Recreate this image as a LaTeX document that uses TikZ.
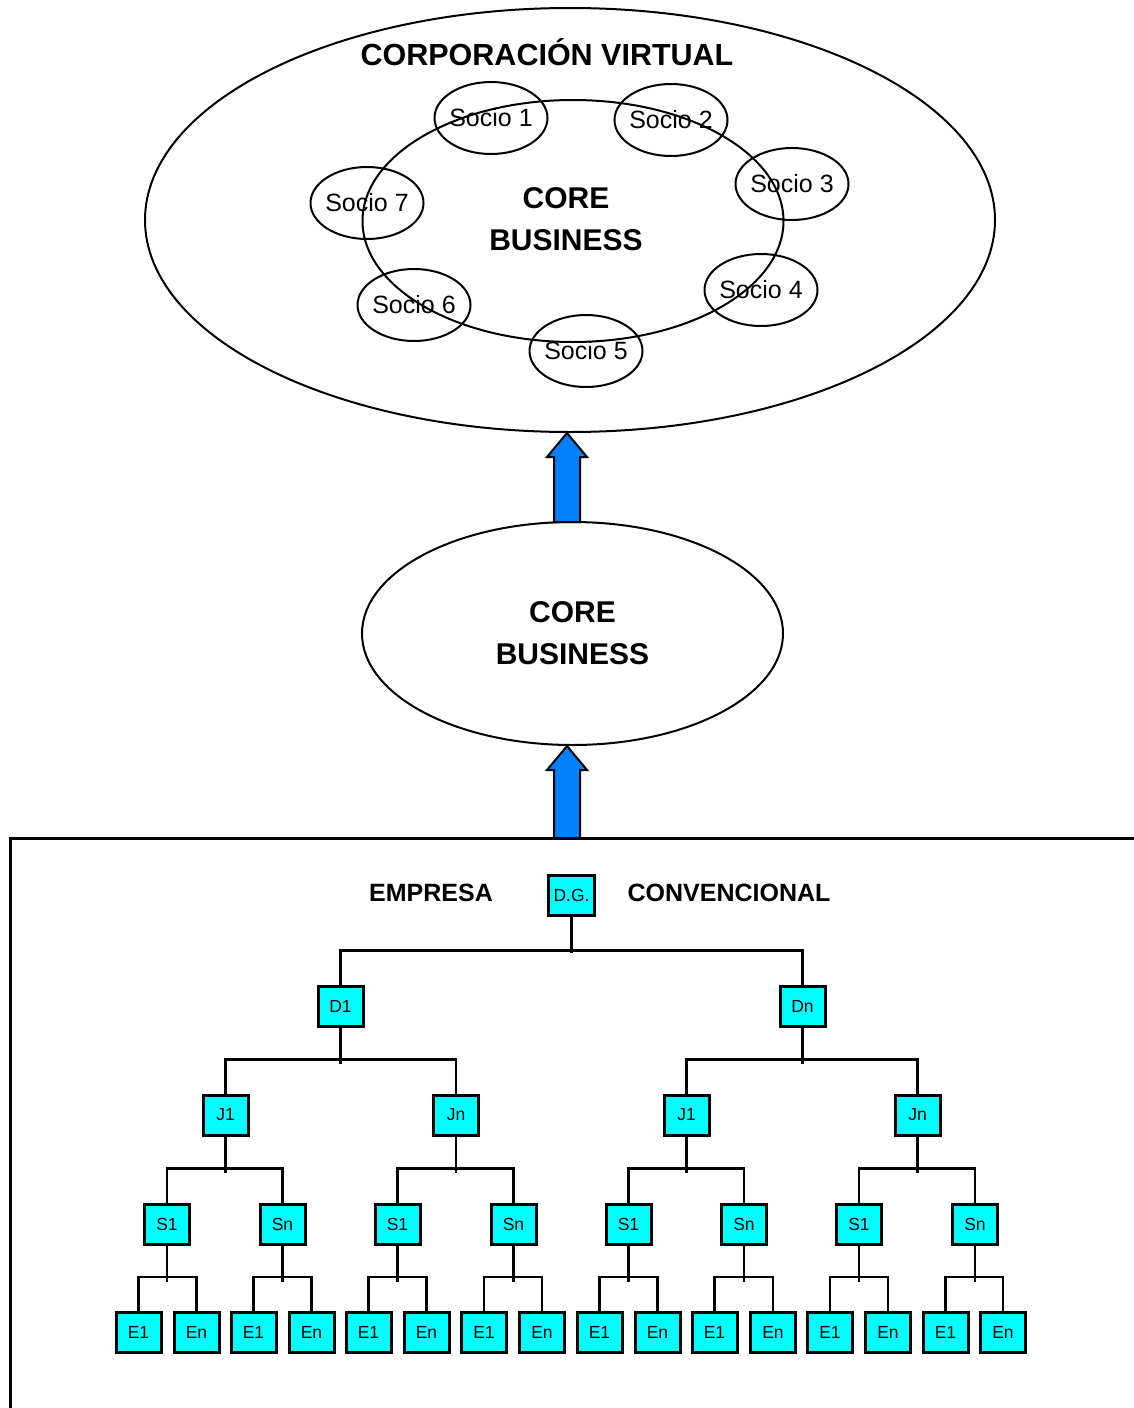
\documentclass[tikz,border=0pt]{standalone}
\usepackage{fontspec}
\setmainfont{Liberation Sans}
\usetikzlibrary{shapes.geometric,calc}
\definecolor{boxcyan}{HTML}{00FFFF}
\definecolor{arrowblue}{HTML}{0080FF}
\begin{document}
\begin{tikzpicture}[x=1pt,y=-1pt,
  oval/.style={draw,ellipse,line width=2pt,inner sep=0pt},
  socio/.style={oval,inner xsep=-6pt,minimum width=113,minimum height=72,font=\fontsize{25}{28}\selectfont},
  bigtext/.style={font=\bfseries\fontsize{30}{42}\selectfont,align=center},
  label/.style={font=\bfseries\fontsize{25}{30}\selectfont},
  orgbox/.style={draw,line width=3pt,fill=boxcyan,minimum width=45,minimum height=40,inner sep=0pt,font=\fontsize{17.5}{20}\selectfont},
  conn/.style={line width=2.5pt},
  blockarrow/.style={draw,line width=2pt,fill=arrowblue,line join=miter}]
\useasboundingbox (0,0) rectangle (1134,1408);

% --- virtual corporation ---
\node[oval,minimum width=850,minimum height=424] (virtual) at (570,220) {};
\node[font=\bfseries\fontsize{30.5}{36}\selectfont] (vtitle) at (547,52) {CORPORACIÓN VIRTUAL};
\node[oval,minimum width=421,minimum height=242] (core) at (573,221) {};
\node[bigtext] (coretxt) at (566,219) {CORE\\BUSINESS};
\node[socio] (s1) at (491,118) {Socio 1};
\node[socio] (s2) at (671,120) {Socio 2};
\node[socio] (s3) at (792,184) {Socio 3};
\node[socio] (s4) at (761,290) {Socio 4};
\node[socio] (s5) at (586,351) {Socio 5};
\node[socio] (s6) at (414,305) {Socio 6};
\node[socio] (s7) at (367,203) {Socio 7};

% --- core business ---
\node[oval,minimum width=421,minimum height=223,bigtext] (mid) at (572.5,633.5) {CORE\\BUSINESS};

% --- conventional company frame ---
\coordinate (frameL) at (10,1420);
\coordinate (frameC) at (10,838);
\coordinate (frameR) at (1140,838);
\draw[line width=3pt] (frameL) -- (frameC) -- (frameR);

% --- block arrows ---
\coordinate (ax) at (567,0);
\coordinate (a1t) at (virtual.south -| ax);
\coordinate (a1b) at ($(mid.north -| ax)+(0,1)$);
\coordinate (a2t) at (mid.south -| ax);
\coordinate (a2b) at (frameC -| ax);
\foreach \t/\b in {a1t/a1b,a2t/a2b}{
  \draw[blockarrow] ($(\b)+(-13,0)$) -- ($(\t)+(-13,24)$) -- ($(\t)+(-20,24)$) -- (\t)
    -- ($(\t)+(20,24)$) -- ($(\t)+(13,24)$) -- ($(\b)+(13,0)$) -- cycle;
}

% --- organisation chart ---
\node[label] (emp) at (431,893) {EMPRESA};
\node[label] (conv) at (729,893) {CONVENCIONAL};
\node[orgbox,minimum width=46,minimum height=40] (dg) at (571.5,895.5) {D.G.};
\node[orgbox] (d1) at (340.5,1006) {D1};
\node[orgbox] (d2) at (802.5,1006) {Dn};
\foreach \i/\x/\t in {1/225.5/J1,2/456/Jn,3/686.5/J1,4/917.5/Jn}
  \node[orgbox] (j\i) at (\x,1115) {\t};
\foreach \i/\x/\t in {1/167/S1,2/282.5/Sn,3/397.5/S1,4/513.5/Sn,5/628.5/S1,6/744/Sn,7/859/S1,8/975/Sn}
  \node[orgbox] (sb\i) at (\x,1224) {\t};
\foreach \i/\x/\t in {1/138.5/E1,2/196.5/En,3/253.5/E1,4/311.5/En,5/368.5/E1,6/426.5/En,
                      7/484/E1,8/542/En,9/599.5/E1,10/657.5/En,11/714.5/E1,12/773/En,
                      13/830/E1,14/888/En,15/945.5/E1,16/1003/En}
  \node[orgbox] (e\i) at (\x,1332.5) {\t};

\foreach \p/\a/\b in {dg/d1/d2, d1/j1/j2, d2/j3/j4,
                      j1/sb1/sb2, j2/sb3/sb4, j3/sb5/sb6, j4/sb7/sb8,
                      sb1/e1/e2, sb2/e3/e4, sb3/e5/e6, sb4/e7/e8,
                      sb5/e9/e10, sb6/e11/e12, sb7/e13/e14, sb8/e15/e16}{
  \draw[conn] (\p.south) -- ++(0,36);
  \draw[conn] (\a.north) -- ++(0,-34) -| (\b.north);
}
\end{tikzpicture}
\end{document}
